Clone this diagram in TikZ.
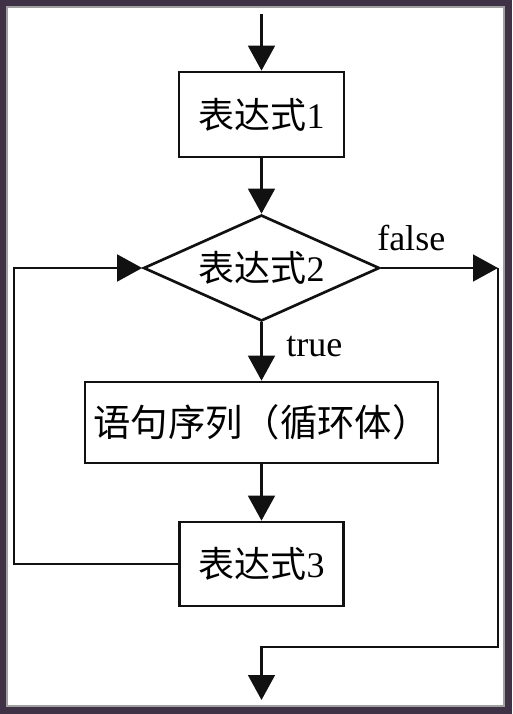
\documentclass[tikz,border=0pt]{standalone}
\usepackage{fontspec}
\setmainfont{Liberation Serif}
\newfontfamily\cjk{Noto Sans CJK SC}
\usetikzlibrary{arrows.meta,shapes.geometric,positioning}
\definecolor{framedark}{HTML}{3F3247}
\definecolor{frameline}{HTML}{A0A0A0}
\definecolor{inkblack}{HTML}{111111}

\tikzset{
  stepbox/.style={draw=inkblack, line width=2pt, rectangle, inner sep=0pt,
    font=\fontsize{27}{31}\selectfont},
  testbox/.style={draw=inkblack, line width=2pt, diamond, aspect=2.2, inner sep=0pt,
    minimum width=177pt, minimum height=79.5pt, font=\fontsize{27}{31}\selectfont},
  flow/.style={draw=inkblack, line width=2.1pt, -{Triangle[length=18.75pt,width=20pt]}},
  lbl/.style={font=\fontsize{27}{31}\selectfont, inner sep=0pt}
}

\begin{document}
\begin{tikzpicture}[x=0.75pt, y=-0.75pt]

% Frame
\useasboundingbox (0,0) rectangle (512,714);
\fill[framedark] (0,0) rectangle (512,714);
\filldraw[fill=white, draw=frameline, line width=0.8pt] (7,7) rectangle (504,706);

% Blocks
\node[stepbox, minimum width=123.75pt, minimum height=63.75pt] (e1) at (261.5,114.5) {{\cjk 表达式}1};
\node[testbox] (cond) at (261.5,268) {{\cjk 表达式}2};
\node[stepbox, minimum width=264.75pt, minimum height=60.75pt, font=\fontsize{28}{32}\selectfont] (body) at (261.5,422.5) {\cjk 语句序列（循环体）};
\node[stepbox, minimum width=123pt, minimum height=63pt] (e3) at (261.5,564) {{\cjk 表达式}3};

% Labels
\node[lbl, anchor=base west] (lfalse) at (377,250) {false};
\node[lbl, anchor=base west] (ltrue) at (286,356) {true};

% Helper points
\coordinate (start) at (261.5,14);
\coordinate (back) at (14,268);
\coordinate (outc) at (498,268);
\coordinate (joinpt) at (261.5,647);
\coordinate (exit) at (261.5,700);

% Connectors
\draw[flow] (start) -- (e1);
\draw[flow] (e1) -- (cond);
\draw[flow] (cond) -- (body);
\draw[flow] (body) -- (e3);
\draw[flow] (e3.west) -| (back) -- (cond.west);
\draw[flow] (cond.east) -- (outc);
\draw[flow] (outc) |- (joinpt) -- (exit);

\end{tikzpicture}
\end{document}
